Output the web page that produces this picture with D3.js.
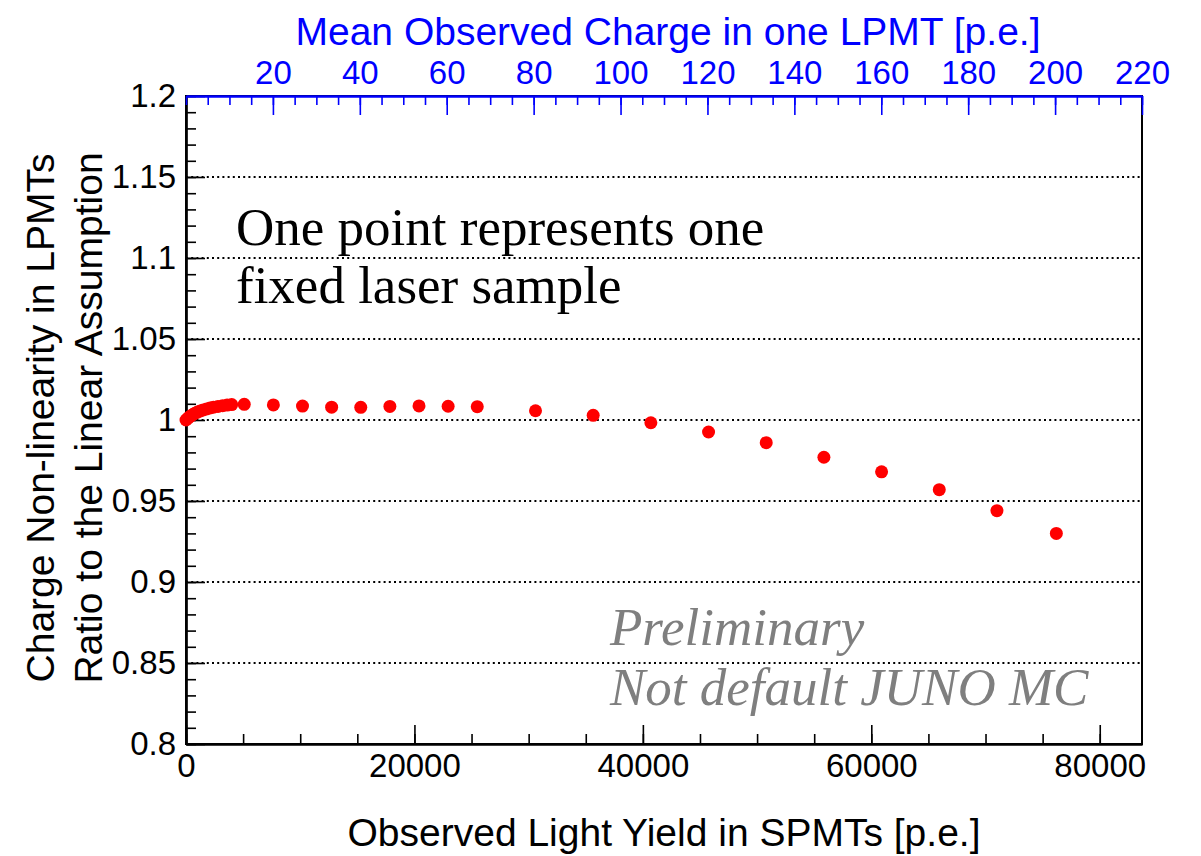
<!DOCTYPE html>
<html>
<head>
<meta charset="utf-8">
<script src="https://cdn.jsdelivr.net/npm/d3@7"></script>
<style>
  body { margin: 0; background: #fff; }
</style>
</head>
<body>
<div id="vis"></div>
<script>
// data
const lightYield = [0, 150, 300, 450, 600, 800, 1000, 1250, 1500, 1800, 2100, 2400, 2800, 3200, 3600, 4000,
  5100, 7650, 10200, 12750, 15300, 17850, 20400, 22950, 25500,
  30600, 35650, 40700, 45750, 50800, 55850, 60900, 65950, 71000, 76200];
const ratio = [1.0000, 1.0010, 1.0019, 1.0027, 1.0034, 1.0042, 1.0049, 1.0056, 1.0062, 1.0068, 1.0074, 1.0079, 1.0084, 1.0088, 1.0092, 1.0095,
  1.0097, 1.0093, 1.0086, 1.0079, 1.0078, 1.0084, 1.0087, 1.0085, 1.0082,
  1.0057, 1.0029, 0.9983, 0.9926, 0.986, 0.977, 0.968, 0.957, 0.944, 0.930];

const xTicks = [0, 20000, 40000, 60000, 80000];
const xMinor = d3.range(0, 83700, 5000);
const yTicks = [0.8, 0.85, 0.9, 0.95, 1, 1.05, 1.1, 1.15, 1.2];
const yMinor = d3.range(80, 121).map(d => d / 100);
const gridLines = [0.85, 0.9, 0.95, 1, 1.05, 1.1, 1.15];
const topTicks = [20, 40, 60, 80, 100, 120, 140, 160, 180, 200, 220];
const topMinor = d3.range(0, 221, 5);

const W = 1201, H = 856;
const pLeft = 186, pRight = 1142, pTop = 96, pBottom = 744;

let svg = d3.select('#vis')
  .append('svg')
  .attr('width', W)
  .attr('height', H)
  .style('background-color', 'white');

let x = d3.scaleLinear().domain([0, 83700]).range([pLeft, pRight]);
let xTop = d3.scaleLinear().domain([0, 220]).range([pLeft, pRight]);
let y = d3.scaleLinear().domain([0.8, 1.2]).range([pBottom, pTop]);

const sans = 'Liberation Sans, Arial, Helvetica, sans-serif';
const serif = 'Liberation Serif, Times New Roman, serif';

// dotted grid lines
svg.append('g')
  .selectAll('line')
  .data(gridLines)
  .join('line')
  .attr('x1', pLeft)
  .attr('x2', pRight)
  .attr('y1', d => y(d))
  .attr('y2', d => y(d))
  .attr('stroke', '#000')
  .attr('stroke-width', 2)
  .attr('stroke-dasharray', '2,3.2');

// frame
svg.append('rect')
  .attr('x', pLeft).attr('y', pTop)
  .attr('width', pRight - pLeft).attr('height', pBottom - pTop)
  .attr('fill', 'none')
  .attr('stroke', '#000')
  .attr('stroke-width', 2);

function styleAxis(g, color, size) {
  g.attr('font-family', sans).attr('font-size', size).attr('color', color);
  g.select('.domain').attr('stroke-width', 2.2);
  g.selectAll('.tick line').attr('stroke-width', 1.6);
}

// bottom axis
svg.append('g')
  .attr('transform', `translate(0, ${pBottom})`)
  .call(d3.axisBottom(x).tickValues(xMinor).tickSize(-10).tickSizeOuter(0).tickFormat(''))
  .call(g => styleAxis(g, '#000', 33));
svg.append('g')
  .attr('transform', `translate(0, ${pBottom})`)
  .call(d3.axisBottom(x).tickValues(xTicks).tickSize(-19).tickSizeOuter(0).tickPadding(10).tickFormat(d3.format('d')))
  .call(g => styleAxis(g, '#000', 33));

// left axis
svg.append('g')
  .attr('transform', `translate(${pLeft}, 0)`)
  .call(d3.axisLeft(y).tickValues(yMinor).tickSize(-10).tickSizeOuter(0).tickFormat(''))
  .call(g => styleAxis(g, '#000', 33));
svg.append('g')
  .attr('transform', `translate(${pLeft}, 0)`)
  .call(d3.axisLeft(y).tickValues(yTicks).tickSize(-19).tickSizeOuter(0).tickPadding(10).tickFormat(d => String(+d.toFixed(2))))
  .call(g => styleAxis(g, '#000', 33));

// top axis (blue)
svg.append('g')
  .attr('transform', `translate(0, ${pTop})`)
  .call(d3.axisTop(xTop).tickValues(topMinor).tickSize(-9).tickSizeOuter(0).tickFormat(''))
  .call(g => styleAxis(g, '#0000ff', 33));
svg.append('g')
  .attr('transform', `translate(0, ${pTop})`)
  .call(d3.axisTop(xTop).tickValues(topTicks).tickSize(-19).tickSizeOuter(0).tickPadding(12.5).tickFormat(d3.format('d')))
  .call(g => styleAxis(g, '#0000ff', 33));

// points
svg.append('g')
  .selectAll('circle')
  .data(lightYield.map((v, i) => ({ x: v, y: ratio[i] })))
  .join('circle')
  .attr('cx', d => x(d.x))
  .attr('cy', d => y(d.y))
  .attr('r', 6.5)
  .attr('fill', '#ff0000');

// titles
svg.append('text')
  .attr('x', (pLeft + pRight) / 2 + 4).attr('y', 45)
  .attr('text-anchor', 'middle')
  .attr('font-family', sans).attr('font-size', 39)
  .attr('fill', '#0000ff')
  .text('Mean Observed Charge in one LPMT [p.e.]');

svg.append('text')
  .attr('x', 664).attr('y', 846)
  .attr('text-anchor', 'middle')
  .attr('font-family', sans).attr('font-size', 39)
  .attr('fill', '#000')
  .text('Observed Light Yield in SPMTs [p.e.]');

svg.append('text')
  .attr('transform', 'translate(53.5, 418) rotate(-90)')
  .attr('text-anchor', 'middle')
  .attr('font-family', sans).attr('font-size', 39)
  .text('Charge Non-linearity in LPMTs');
svg.append('text')
  .attr('transform', 'translate(101.5, 418) rotate(-90)')
  .attr('text-anchor', 'middle')
  .attr('font-family', sans).attr('font-size', 39)
  .text('Ratio to the Linear Assumption');

// annotations
svg.append('text')
  .attr('x', 236).attr('y', 245)
  .attr('font-family', serif).attr('font-size', 53)
  .text('One point represents one');
svg.append('text')
  .attr('x', 236).attr('y', 303)
  .attr('font-family', serif).attr('font-size', 53)
  .text('fixed laser sample');

svg.append('text')
  .attr('x', 610).attr('y', 645)
  .attr('font-family', serif).attr('font-size', 53).attr('font-style', 'italic')
  .attr('fill', '#7f7f7f')
  .text('Preliminary');
svg.append('text')
  .attr('x', 610).attr('y', 705)
  .attr('font-family', serif).attr('font-size', 53).attr('font-style', 'italic')
  .attr('fill', '#7f7f7f')
  .text('Not default JUNO MC');
</script>
</body>
</html>
